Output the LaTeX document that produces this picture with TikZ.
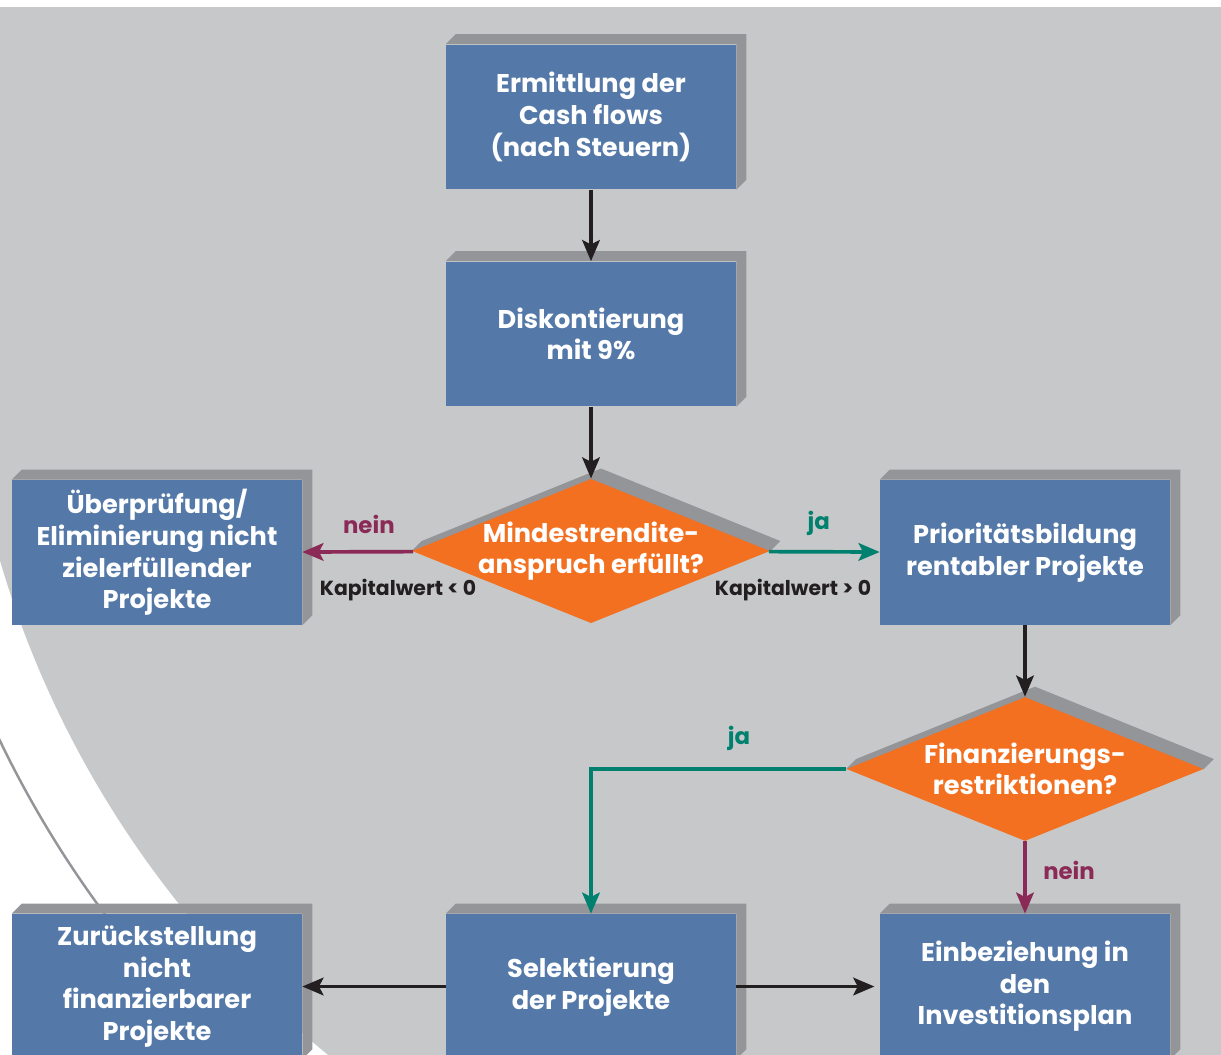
\documentclass[tikz,border=0pt]{standalone}
\usepackage{fontspec}
\setmainfont{Poppins}
\usetikzlibrary{shapes.geometric,arrows.meta}

\definecolor{bggray}{HTML}{C7C8CA}
\definecolor{shadegray}{HTML}{939598}
\definecolor{boxblue}{HTML}{5479A8}
\definecolor{deciorange}{HTML}{F37021}
\definecolor{jateal}{HTML}{00806F}
\definecolor{neinred}{HTML}{8C2A57}
\definecolor{arrowblack}{HTML}{231F20}

\pgfdeclarelayer{background}
\pgfsetlayers{background,main}

\tikzset{
    block/.style={fill=boxblue, text=white, align=center, inner sep=0pt,
        minimum width=5.8cm, minimum height=2.9cm,
        font=\bfseries\fontsize{14.6}{18}\selectfont},
    decision/.style={diamond, fill=deciorange, text=white, align=center,
        aspect=2.48, inner xsep=-4pt, inner ysep=0pt,
        minimum width=7.14cm, minimum height=2.88cm,
        font=\bfseries\fontsize{14.6}{18}\selectfont},
    flow/.style={draw=arrowblack, line width=2.1pt,
        -{Stealth[length=12pt,width=10pt,inset=2.5pt]}},
    yesflow/.style={flow, draw=jateal},
    noflow/.style={flow, draw=neinred},
    yeslabel/.style={text=jateal, font=\bfseries\fontsize{13}{15}\selectfont},
    nolabel/.style={text=neinred, font=\bfseries\fontsize{13}{15}\selectfont},
    valuelabel/.style={text=arrowblack, font=\bfseries\fontsize{11.6}{13}\selectfont}
}

\begin{document}
\begin{tikzpicture}[x=0.02cm, y=-0.02cm]
        \useasboundingbox (0,0) rectangle (1221,1055);

        \node[block] (cashflow) at (591,117) {Ermittlung der\\Cash flows\\(nach Steuern)};
        \node[block] (discount) at (591,334) {Diskontierung\\mit 9\%};
        \node[decision] (minreturn) at (591,551) {Mindestrendite-\\anspruch erfüllt?};
        \node[block] (review) at (157,552.5) {Überprüfung/\\Eliminierung nicht\\zielerfüllender\\Projekte};
        \node[block] (priority) at (1025,552.5) {Prioritätsbildung\\rentabler Projekte};
        \node[decision] (finance) at (1025,769) {Finanzierungs-\\restriktionen?};
        \node[block] (defer) at (157,986.5) {Zurückstellung\\nicht\\finanzierbarer\\Projekte};
        \node[block] (select) at (591,986.5) {Selektierung\\der Projekte};
        \node[block] (plan) at (1025,986.5) {Einbeziehung in\\den\\Investitionsplan};

        \node[valuelabel] (negvalue) at (398,590) {Kapitalwert < 0};
        \node[valuelabel] (posvalue) at (793,590) {Kapitalwert > 0};

        \draw[flow] (cashflow) -- (discount);
        \draw[flow] (discount) -- (minreturn);
        \draw[noflow] (minreturn) -- (review) node[nolabel, pos=0.4, above=6pt] (nein1) {nein};
        \draw[yesflow] (minreturn) -- (priority) node[yeslabel, pos=0.45, above=5pt] (ja1) {ja};
        \draw[flow] (priority) -- (finance);
        \draw[yesflow] (finance) -| (select) node[yeslabel, pos=0.21, above=6pt] (ja2) {ja};
        \draw[noflow] (finance) -- (plan) node[nolabel, pos=0.4, right=6pt] (nein2) {nein};
        \draw[flow] (select) -- (defer);
        \draw[flow, shorten >=3pt] (select) -- (plan);

        \begin{pgfonlayer}{background}
            \clip (0,0) rectangle (1221,1055);
            \fill[white] (0,0) rectangle (1221,1055);
            \begin{scope}
                \clip (966,276) circle [radius=20.14cm];
                \fill[bggray] (0,7) rectangle (1221,1055);
            \end{scope}
            \draw[shadegray, line width=1.4pt] (966,276) circle [radius=21.44cm];
            \foreach \n in {cashflow,discount,review,priority,defer,select,plan}
                \fill[shadegray] (\n.north west) -- ([shift={(10,-10)}]\n.north west)
                    -- ([shift={(10,-10)}]\n.north east) -- ([shift={(10,-10)}]\n.south east)
                    -- (\n.south east) -- (\n.north east) -- cycle;
            \foreach \n in {minreturn,finance}
                \fill[shadegray] (\n.west) -- ([shift={(10,-10)}]\n.west)
                    -- ([shift={(10,-10)}]\n.north) -- ([shift={(10,-10)}]\n.east)
                    -- (\n.east) -- cycle;
        \end{pgfonlayer}
    \end{tikzpicture}
\end{document}
